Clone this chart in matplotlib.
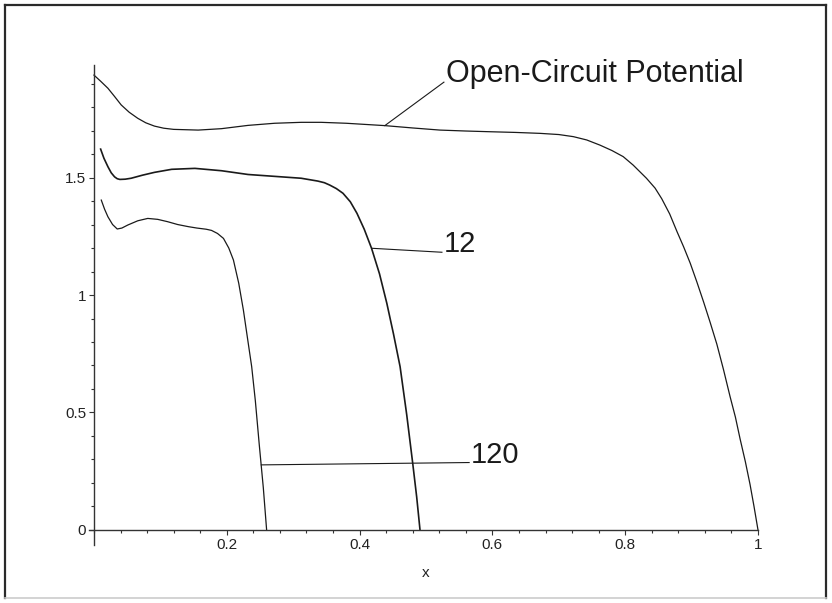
import matplotlib
matplotlib.use("Agg")
import matplotlib.pyplot as plt
from matplotlib.ticker import MultipleLocator, FixedLocator
from matplotlib.lines import Line2D

plt.rcParams['font.family'] = ['Liberation Sans', 'DejaVu Sans']

# Potential vs. state of discharge x
ocp_x = [0.0, 0.01, 0.021, 0.031, 0.041, 0.053, 0.066, 0.078, 0.091, 0.105,
         0.12, 0.157, 0.192, 0.232, 0.272, 0.312, 0.342, 0.38, 0.438, 0.48,
         0.521, 0.56, 0.596, 0.635, 0.672, 0.70, 0.722, 0.742, 0.762, 0.78,
         0.797, 0.812, 0.832, 0.845, 0.855, 0.867, 0.878, 0.888, 0.898, 0.908,
         0.918, 0.928, 0.938, 0.948, 0.958, 0.966, 0.973, 0.981, 0.988, 0.994,
         1.0]
ocp_y = [1.936, 1.91, 1.88, 1.845, 1.809, 1.778, 1.752, 1.733, 1.719, 1.710,
         1.705, 1.702, 1.708, 1.722, 1.731, 1.735, 1.735, 1.731, 1.721, 1.711,
         1.702, 1.698, 1.695, 1.692, 1.688, 1.683, 1.674, 1.660, 1.638, 1.615,
         1.589, 1.553, 1.497, 1.455, 1.41, 1.345, 1.27, 1.205, 1.135, 1.055,
         0.971, 0.883, 0.791, 0.683, 0.567, 0.48, 0.388, 0.29, 0.194, 0.1,
         0.0]

rate12_x = [0.010, 0.015, 0.021, 0.026, 0.031, 0.035, 0.039, 0.047, 0.056, 0.073,
            0.091, 0.117, 0.152, 0.192, 0.232, 0.267, 0.312, 0.337, 0.347, 0.355,
            0.365, 0.375, 0.386, 0.396, 0.407, 0.418, 0.43, 0.441, 0.451, 0.461,
            0.471, 0.480, 0.486, 0.491]
rate12_y = [1.621, 1.582, 1.546, 1.52, 1.503, 1.495, 1.492, 1.493, 1.497, 1.510,
            1.522, 1.535, 1.539, 1.529, 1.513, 1.506, 1.497, 1.485, 1.478, 1.468,
            1.453, 1.433, 1.397, 1.348, 1.28, 1.199, 1.09, 0.965, 0.835, 0.695,
            0.49, 0.284, 0.14, 0.0]

rate120_x = [0.011, 0.016, 0.021, 0.028, 0.035, 0.042, 0.051, 0.066, 0.081, 0.096,
             0.111, 0.126, 0.142, 0.155, 0.169, 0.177, 0.186, 0.195, 0.203, 0.21,
             0.218, 0.225, 0.231, 0.2375, 0.243, 0.249, 0.255, 0.26]
rate120_y = [1.404, 1.365, 1.333, 1.300, 1.281, 1.285, 1.298, 1.316, 1.326, 1.322,
             1.312, 1.300, 1.291, 1.285, 1.280, 1.275, 1.262, 1.241, 1.20, 1.149,
             1.05, 0.936, 0.82, 0.695, 0.55, 0.36, 0.18, 0.0]

# curve labels: text, point on curve, text anchor (left, baseline)
labels = ["Open-Circuit Potential", "12", "120"]
label_points = [(0.438, 1.721), (0.418, 1.199), (0.252, 0.277)]
label_anchor = [(0.530, 1.906), (0.527, 1.182), (0.568, 0.287)]
label_sizes = [22, 21, 21]

x_major = [0.2, 0.4, 0.6, 0.8, 1.0]
x_major_text = ["0.2", "0.4", "0.6", "0.8", "1"]
y_major = [0, 0.5, 1.0, 1.5]
y_major_text = ["0", "0.5", "1", "1.5"]

ink = "#1a1a1a"
axis_col = "#333333"

fig = plt.figure(figsize=(8.32, 6.03), dpi=100)
ax = fig.add_axes([89 / 832, 58 / 603, 669 / 832, 480 / 603])

ax.plot(ocp_x, ocp_y, color=ink, lw=0.9, clip_on=False)
ax.plot(rate12_x, rate12_y, color=ink, lw=1.2, clip_on=False)
ax.plot(rate120_x, rate120_y, color=ink, lw=0.9, clip_on=False)

for text, (px, py), (tx, ty), fs in zip(labels, label_points, label_anchor, label_sizes):
    ax.plot([px, tx - 0.003], [py, ty], color=ink, lw=0.8, clip_on=False)
    ax.text(tx, ty, text, fontsize=fs, color=ink, ha='left', va='baseline')

ax.set_xlim(-0.0075, 1.0)
ax.set_ylim(-0.064, 1.979)

for s in ("top", "right"):
    ax.spines[s].set_visible(False)
ax.spines["left"].set_position(("data", 0))
ax.spines["bottom"].set_position(("data", 0))
for s in ("left", "bottom"):
    ax.spines[s].set_color(axis_col)
    ax.spines[s].set_linewidth(1.0)

ax.xaxis.set_major_locator(FixedLocator(x_major))
ax.set_xticklabels(x_major_text)
ax.xaxis.set_minor_locator(MultipleLocator(0.04))
ax.yaxis.set_major_locator(FixedLocator(y_major))
ax.set_yticklabels(y_major_text)
ax.yaxis.set_minor_locator(MultipleLocator(0.1))

ax.tick_params(axis='both', which='major', direction='out', length=3.6,
               width=0.8, color=axis_col, labelsize=11, labelcolor="#222222", pad=2)
ax.tick_params(axis='both', which='minor', direction='out', length=2.0,
               width=0.8, color=axis_col)

ax.set_xlabel("x", fontsize=11, color="#222222")
ax.xaxis.label.set_va('center')
ax.xaxis.set_label_coords(0.5, (530 - 573) / 235.0, transform=ax.transData)

# outer frame
W, H = 832.0, 603.0
fig.add_artist(Line2D([5 / W, 5 / W], [1 - 5 / H, 1 - 598 / H], color="#2a2a2a", lw=1.6))
fig.add_artist(Line2D([5 / W, 826 / W], [1 - 5 / H, 1 - 5 / H], color="#2a2a2a", lw=1.6))
fig.add_artist(Line2D([826 / W, 826 / W], [1 - 5 / H, 1 - 598 / H], color="#2a2a2a", lw=1.6))
fig.add_artist(Line2D([5 / W, 826 / W], [1 - 598 / H, 1 - 598 / H], color="#cccccc", lw=1.2))

fig.savefig("out.png", dpi=100)
